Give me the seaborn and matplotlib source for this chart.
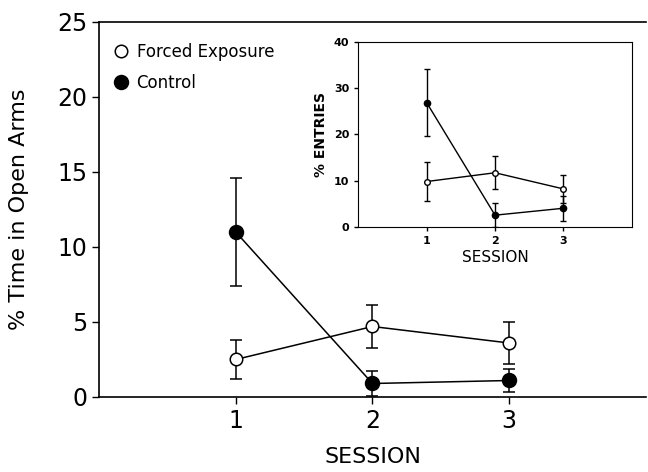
import pandas as pd
import matplotlib
matplotlib.use("Agg")
import matplotlib.pyplot as plt
import seaborn as sns

# ---------------------------------------------------------
# DATA
# ---------------------------------------------------------
sessions = [1, 2, 3]

# main panel: % time in open arms
time_forced     = [2.5, 4.7, 3.6]
time_forced_err = [1.3, 1.45, 1.4]
time_control     = [11.0, 0.9, 1.1]
time_control_err = [3.6, 0.85, 0.75]

# inset: % entries
entries_forced     = [9.8, 11.7, 8.2]
entries_forced_err = [4.2, 3.6, 3.0]
entries_control     = [26.9, 2.5, 4.0]
entries_control_err = [7.3, 2.6, 2.7]

main_df = pd.DataFrame({
    "session": sessions * 2,
    "value": time_forced + time_control,
    "err": time_forced_err + time_control_err,
    "group": ["Forced Exposure"] * 3 + ["Control"] * 3,
})
inset_df = pd.DataFrame({
    "session": sessions * 2,
    "value": entries_forced + entries_control,
    "err": entries_forced_err + entries_control_err,
    "group": ["Forced Exposure"] * 3 + ["Control"] * 3,
})

sns.set_style("ticks")
plt.rcParams["font.family"] = ["DejaVu Sans"]
for key in ["text.color", "axes.labelcolor", "xtick.color", "ytick.color", "axes.edgecolor"]:
    plt.rcParams[key] = "black"

styles = {
    "Forced Exposure": dict(mfc="white", ms=9),
    "Control": dict(mfc="black", ms=10),
}


def draw(ax, df, ms_scale, cap, lw):
    for grp, st in styles.items():
        d = df[df["group"] == grp]
        sns.lineplot(data=d, x="session", y="value", ax=ax, color="black",
                     linewidth=lw, legend=False, zorder=2)
        ax.errorbar(d["session"], d["value"], yerr=d["err"], fmt="none",
                    ecolor="black", elinewidth=lw, capsize=cap, capthick=lw, zorder=3)
        ax.plot(d["session"], d["value"], linestyle="none", marker="o",
                mfc=st["mfc"], mec="black", mew=lw,
                ms=st["ms"] * ms_scale, zorder=4, label=grp)


fig = plt.figure(figsize=(6.48, 4.72), dpi=100)

# =========================================================
# MAIN PANEL
# =========================================================
ax = fig.add_axes([0.1528, 0.1589, 0.844, 0.7945])
draw(ax, main_df, 1.0, 4, 1.1)
ax.set_xlim(0, 4)
ax.set_ylim(0, 25)
ax.set_xticks(sessions)
ax.set_yticks([0, 5, 10, 15, 20, 25])
ax.tick_params(axis="both", labelsize=17, length=5, width=1, direction="out")
ax.spines["right"].set_visible(False)
for s in ["left", "bottom", "top"]:
    ax.spines[s].set_linewidth(1.2)
ax.set_xlabel("SESSION", fontsize=16, labelpad=10)
ax.set_ylabel("% Time in Open Arms", fontsize=16, labelpad=20)
ax.legend(loc="upper left", frameon=False, fontsize=12, handletextpad=0.45,
          handlelength=1.0, labelspacing=0.8, borderaxespad=0.4,
          bbox_to_anchor=(0.0, 0.98))

# =========================================================
# INSET
# =========================================================
ins = fig.add_axes([0.553, 0.5197, 0.4219, 0.3907])
draw(ins, inset_df, 0.45, 2.5, 1.0)
ins.set_xlim(0, 4)
ins.set_ylim(0, 40)
ins.set_xticks(sessions)
ins.set_yticks([0, 10, 20, 30, 40])
ins.tick_params(axis="both", labelsize=8, length=3, width=1, direction="out")
for lbl in ins.get_xticklabels() + ins.get_yticklabels():
    lbl.set_fontweight("bold")
ins.set_xlabel("SESSION", fontsize=11, labelpad=3)
ins.set_ylabel("% ENTRIES", fontsize=10, fontweight="bold", labelpad=4)

plt.savefig("out.png", dpi=100)
plt.close()
